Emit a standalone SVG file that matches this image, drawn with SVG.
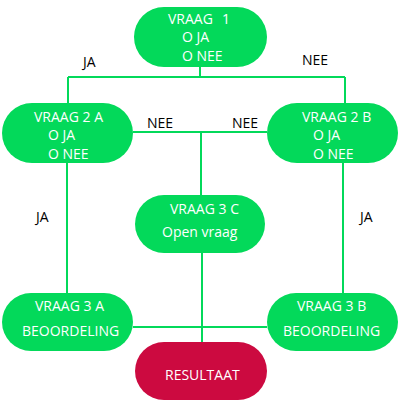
<svg xmlns="http://www.w3.org/2000/svg" width="400" height="400" viewBox="0 0 400 400">
<style>
.g{fill:#03d95a}
.r{fill:#cc0a40}
.t{fill:#fff;font-family:"Open Sans","Liberation Sans",sans-serif;font-size:14px}
.l{fill:#000;font-family:"Open Sans","Liberation Sans",sans-serif;font-size:14px}
.c{stroke:#03d95a;stroke-width:2;fill:none}
</style>
<rect width="400" height="400" fill="#fff"/>
<g id="connectors" class="c">
<path d="M200,67V77M68,77H345M68,77V103M345,77V103"/>
<path d="M133,132H267M201,132V195M202,253V343"/>
<path d="M67,163V293M343,163V293M133,327H267"/>
</g>
<g id="labels">
<text class="l" x="83" y="67">JA</text>
<text class="l" x="302" y="65">NEE</text>
<text class="l" x="147" y="128">NEE</text>
<text class="l" x="232" y="128">NEE</text>
<text class="l" x="36" y="222">JA</text>
<text class="l" x="360" y="222">JA</text>
</g>
<g id="vraag1">
<rect class="g" x="134" y="7" width="133" height="60" rx="30"/>
<text class="t" x="168" y="24">VRAAG<tspan x="222">1</tspan></text>
<text class="t" x="182" y="42">O JA</text>
<text class="t" x="182" y="61">O NEE</text>
</g>
<g id="vraag2a">
<rect class="g" x="2" y="103" width="131" height="60" rx="30"/>
<text class="t" x="34" y="122">VRAAG 2 A</text>
<text class="t" x="48" y="140">O JA</text>
<text class="t" x="48" y="159">O NEE</text>
</g>
<g id="vraag2b">
<rect class="g" x="267" y="103" width="131" height="60" rx="30"/>
<text class="t" x="302" y="122">VRAAG 2 B</text>
<text class="t" x="313" y="140">O JA</text>
<text class="t" x="313" y="159">O NEE</text>
</g>
<g id="vraag3c">
<rect class="g" x="135" y="195" width="130" height="58" rx="29"/>
<text class="t" x="170" y="214">VRAAG 3 C</text>
<text class="t" x="162" y="237">Open vraag</text>
</g>
<g id="vraag3a">
<rect class="g" x="2" y="293" width="131" height="58" rx="29"/>
<text class="t" x="35" y="311">VRAAG 3 A</text>
<text class="t" x="22" y="336">BEOORDELING</text>
</g>
<g id="vraag3b">
<rect class="g" x="267" y="293" width="131" height="58" rx="29"/>
<text class="t" x="297" y="311">VRAAG 3 B</text>
<text class="t" x="283" y="336">BEOORDELING</text>
</g>
<g id="resultaat">
<rect class="r" x="135" y="342" width="132" height="58" rx="29"/>
<text class="t" x="165" y="380">RESULTAAT</text>
</g>
</svg>
